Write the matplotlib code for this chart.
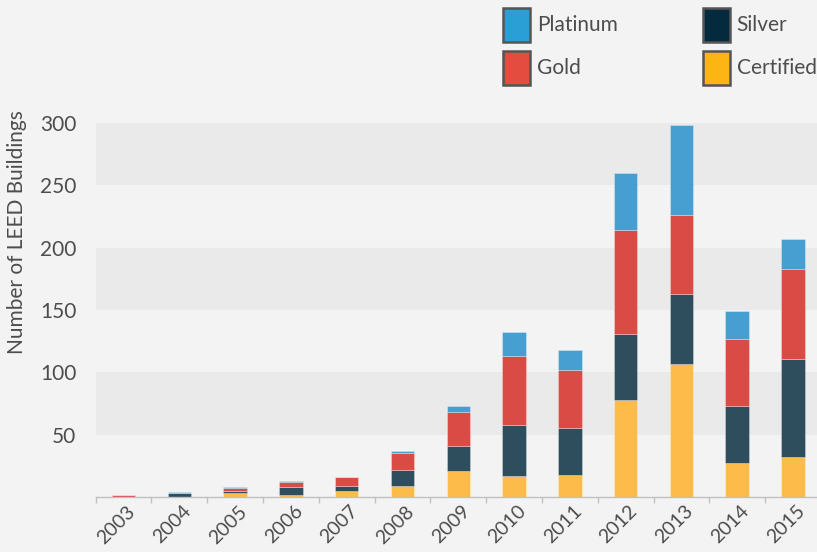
import matplotlib
matplotlib.use("Agg")
import matplotlib.pyplot as plt
import matplotlib.transforms as mtransforms
from matplotlib.patches import Rectangle
import numpy as np

years = ["2003", "2004", "2005", "2006", "2007", "2008", "2009",
         "2010", "2011", "2012", "2013", "2014", "2015"]
certified = [0, 0, 3, 2, 5, 9, 21, 17, 18, 78, 107, 27, 32]
silver    = [0, 3, 2, 6, 4, 13, 20, 41, 37, 53, 56, 46, 79]
gold      = [1.5, 0, 2, 4, 7, 13, 27, 55, 47, 83, 63, 54, 72]
platinum  = [0, 1, 1, 1, 0, 2, 5, 19, 16, 46, 72, 22, 24]

series_names = ["Certified", "Silver", "Gold", "Platinum"]
series_vals = [certified, silver, gold, platinum]
bar_colors = ["#fdbb4a", "#2f4e5d", "#da4b45", "#479fd1"]
legend_colors = {"Platinum": "#2a9fd6", "Gold": "#e34c3f",
                 "Silver": "#042a3e", "Certified": "#fdb515"}
yticks = [50, 100, 150, 200, 250, 300]

BG = "#f3f3f3"
BAND = "#eaeaea"
TXT = "#4d4d4d"
plt.rcParams["font.family"] = ["Lato", "DejaVu Sans"]

fig = plt.figure(figsize=(8.17, 5.52), dpi=100, facecolor=BG)
ax = fig.add_axes([95.6 / 817, 55.0 / 552, 725.3 / 817, (497 - 123) / 552])
ax.set_facecolor(BG)

x = np.arange(len(years))
ax.set_xlim(-0.5, len(years) - 0.5)
ax.set_ylim(0, 300)

for lo in (50, 150, 250):
    ax.axhspan(lo, lo + 50, color=BAND, lw=0, zorder=0)

bottom = np.zeros(len(years))
for name, vals, col in zip(series_names, series_vals, bar_colors):
    v = np.array(vals, dtype=float)
    ax.bar(x, v, width=0.42, bottom=bottom, color=col,
           edgecolor=(1, 1, 1, 0.35), linewidth=0.6, zorder=2)
    bottom += v

for s in ("top", "right", "left"):
    ax.spines[s].set_visible(False)
ax.spines["bottom"].set_color("#c0c0c0")
ax.spines["bottom"].set_linewidth(1.0)
ax.spines["bottom"].set_zorder(3)

ax.set_yticks(yticks)
ax.set_yticklabels([str(t) for t in yticks], fontsize=15, color=TXT)
ax.tick_params(axis="y", length=0, pad=14)

ax.set_xticks(x)
ax.set_xticklabels(years, rotation=45, fontsize=14, color=TXT,
                   ha="center", va="top")
ax.tick_params(axis="x", which="major", length=0, pad=4)
ax.set_xticks(np.arange(-0.5, len(years), 1.0), minor=True)
ax.tick_params(axis="x", which="minor", length=4, width=1.0,
               color="#c0c0c0", direction="out")
offset = mtransforms.ScaledTranslation(-7 / 100, 0, fig.dpi_scale_trans)
for lab in ax.get_xticklabels():
    lab.set_transform(lab.get_transform() + offset)

fig.text(17.5 / 817, 1 - 232 / 552, "Number of LEED Buildings", rotation=90,
         ha="center", va="center", fontsize=15, color=TXT)

# legend (2 x 2 grid)
legend_order = [["Platinum", "Gold"], ["Silver", "Certified"]]
col_x = [503, 702.5]
row_y = [8, 51]
sw_w, sw_h = 27, 34
for ci, col in enumerate(legend_order):
    for ri, name in enumerate(col):
        x0 = col_x[ci]
        y0 = row_y[ri]
        fig.patches.append(Rectangle((x0 / 817, 1 - (y0 + sw_h) / 552),
                                     sw_w / 817, sw_h / 552,
                                     transform=fig.transFigure,
                                     facecolor=legend_colors[name],
                                     edgecolor="#555555", linewidth=1.8))
        fig.text((x0 + sw_w + 7) / 817, 1 - (y0 + sw_h / 2) / 552, name,
                 ha="left", va="center", fontsize=15, color=TXT)

fig.savefig("out.png", dpi=100, facecolor=BG)
